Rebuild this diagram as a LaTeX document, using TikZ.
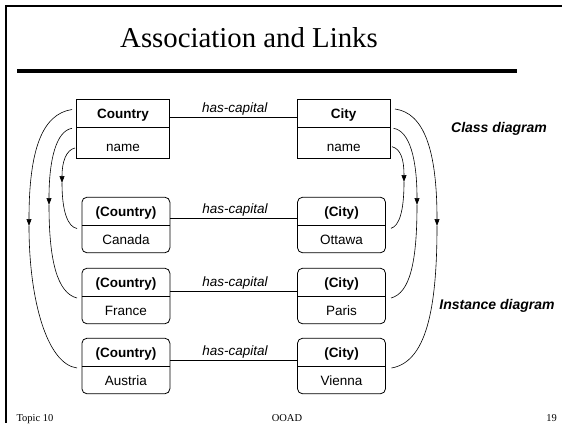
\documentclass[tikz,border=0pt]{standalone}
\usepackage{fontspec}
\setmainfont{Liberation Serif}
\newfontfamily\arialfont{Liberation Sans}
\usetikzlibrary{arrows.meta,fit}

\begin{document}
\begin{tikzpicture}[x=1pt,y=-1pt,
  boxtext/.style={font=\arialfont\fontsize{13.5}{15}\selectfont},
  part/.style={boxtext,inner sep=0pt,outer sep=0pt,text depth=0pt,text height=10.8pt},
  classhdr/.style={part,draw,line width=0.8pt,minimum width=93pt,minimum height=28.3pt,font=\arialfont\bfseries\fontsize{13.5}{15}\selectfont},
  classbody/.style={part,draw,line width=0.8pt,minimum width=93pt,minimum height=31pt,text height=16.4pt},
  insthdr/.style={part,minimum width=88pt,minimum height=28.5pt,font=\arialfont\bfseries\fontsize{13.5}{15}\selectfont},
  instbody/.style={part,minimum width=88pt,minimum height=27pt},
  instframe/.style={draw,line width=0.8pt,rounded corners=5pt,inner sep=0pt,outer sep=0pt},
  assoc/.style={line width=0.7pt},
  assoclabel/.style={boxtext,font=\arialfont\itshape\fontsize{13.5}{15}\selectfont,anchor=base,inner sep=0pt,yshift=5pt,xshift=1.3pt},
  flow/.style={line width=0.6pt},
  flowtip/.style={flow,-{Triangle[length=7pt,width=5pt]}},
  sidelabel/.style={font=\arialfont\bfseries\itshape\fontsize{14}{16}\selectfont,anchor=base,inner sep=0pt},
  footer/.style={font=\fontsize{10.5}{12}\selectfont,anchor=base,inner sep=0pt}
]
\useasboundingbox (0,0) rectangle (562,423);

% slide frame, title and rule
\draw[line width=2.3pt] (562,6) -- (6,6) -- (6,423);
\node[font=\fontsize{28.8}{32}\selectfont,anchor=base,inner sep=0pt] (title) at (249,47.3) {Association and Links};
\coordinate (ruleL) at (17,70.5);
\coordinate (ruleR) at (517,70.5);
\draw[line width=4pt] (ruleL) -- (ruleR);

% class diagram
\node[classhdr] (ch) at (123,113.15) {Country};
\node[classbody,anchor=north] (cb) at (ch.south) {name};
\node[classhdr] (kh) at (343.7,113.15) {City};
\node[classbody,anchor=north] (kb) at (kh.south) {name};
\draw[assoc] ([yshift=-4.2pt]ch.east) -- node[assoclabel] (al0) {has-capital} ([yshift=-4.2pt]kh.west);

% instance diagram
\foreach \n/\y/\cty/\cap/\ls in {1/211.5/Canada/Ottawa/6.8, 2/282.5/France/Paris/9.2, 3/352.5/Austria/Vienna/8.2}{
  \node[insthdr] (ih\n) at (125.9,\y) {(Country)};
  \node[instbody,anchor=north] (ib\n) at (ih\n.south) {\cty};
  \node[instframe,fit=(ih\n)(ib\n)] (if\n) {};
  \draw[line width=0.8pt] (ih\n.south west) -- (ih\n.south east);
  \node[insthdr] (jh\n) at (341.5,\y) {(City)};
  \node[instbody,anchor=north] (jb\n) at (jh\n.south) {\cap};
  \node[instframe,fit=(jh\n)(jb\n)] (jf\n) {};
  \draw[line width=0.8pt] (jh\n.south west) -- (jh\n.south east);
  \draw[assoc] ([yshift=-\ls pt]if\n.east |- ih\n.center) -- node[assoclabel] (al\n) {has-capital} ([yshift=-\ls pt]jf\n.west |- jh\n.center);
}

% instantiation arrows, left side
\coordinate (l1s) at (72,109.5);  \coordinate (l1m) at (29,226);  \coordinate (l1e) at (77,368);
\coordinate (l2s) at (72,128.3);  \coordinate (l2m) at (49,205);  \coordinate (l2e) at (77,298);
\coordinate (l3s) at (75,148);    \coordinate (l3m) at (62,183);  \coordinate (l3e) at (77,228.5);
\draw[flowtip] (l1s) .. controls (42,114) and (29,150) .. (l1m);
\draw[flow] (l1m) .. controls (29,300) and (47,364) .. (l1e);
\draw[flowtip] (l2s) .. controls (56,131) and (49,160) .. (l2m);
\draw[flow] (l2m) .. controls (49,260) and (57,293) .. (l2e);
\draw[flowtip] (l3s) .. controls (66,150) and (62,162) .. (l3m);
\draw[flow] (l3m) .. controls (62,212) and (68,227) .. (l3e);

% instantiation arrows, right side
\coordinate (r1s) at (395,109);   \coordinate (r1m) at (437,226); \coordinate (r1e) at (391.5,368);
\coordinate (r2s) at (393.5,128.3); \coordinate (r2m) at (417,205); \coordinate (r2e) at (391,298);
\coordinate (r3s) at (392,146.7); \coordinate (r3m) at (404,182); \coordinate (r3e) at (391,228.3);
\draw[flowtip] (r1s) .. controls (424,113) and (437,150) .. (r1m);
\draw[flow] (r1m) .. controls (437,310) and (426,362) .. (r1e);
\draw[flowtip] (r2s) .. controls (410,131) and (417,160) .. (r2m);
\draw[flow] (r2m) .. controls (417,262) and (410,293) .. (r2e);
\draw[flowtip] (r3s) .. controls (401,149) and (404,160) .. (r3m);
\draw[flow] (r3m) .. controls (404,212) and (399,226) .. (r3e);

% side labels
\node[sidelabel] (cls) at (499,132) {Class diagram};
\node[sidelabel] (ins) at (497,309.5) {Instance diagram};

% footer
\node[footer] (ft1) at (35,421.5) {Topic 10};
\node[footer] (ft2) at (287,421.5) {OOAD};
\node[footer] (ft3) at (551.5,421.5) {19};
\end{tikzpicture}
\end{document}
